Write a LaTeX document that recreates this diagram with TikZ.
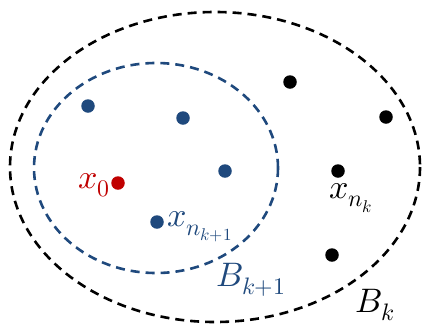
\documentclass[tikz,border=0pt]{standalone}
\usepackage{amsmath}
\usepackage{unicode-math}
\setmathfont{Latin Modern Math}
\usepackage{xcolor}
\usepackage{tikz}
\usetikzlibrary{positioning}
\definecolor{ballblue}{RGB}{31,73,125}
\definecolor{ballred}{RGB}{192,0,0}
\tikzset{
pt/.style={
circle,
inner sep=0pt,
minimum size=13.5pt
},
bluept/.style={pt,fill=ballblue},
blackpt/.style={pt,fill=black},
redpt/.style={pt,fill=ballred},
ball/.style={
line width=2.6pt,
dash pattern=on 9pt off 6pt
},
lab/.style={
inner sep=0pt,
font=\fontsize{34}{40}\selectfont
}
}
\begin{document}
\begin{tikzpicture}[x=1pt,y=-1pt]
\useasboundingbox (0,0) rectangle (422,327);
% the two balls
\draw[ball] (215,167) ellipse [x radius=205, y radius=155];
\draw[ball,ballblue] (156,168) ellipse [x radius=122, y radius=105];

% points of B_{k+1}
\node[bluept](b1) at (88,106){};
\node[bluept](b2) at (183,118){};
\node[bluept](b3) at (225,171){};
\node[bluept](b4) at (157,222){};
\node[redpt](x0) at (118,183){};

% points of B_k
\node[blackpt](k1) at (290,82){};
\node[blackpt](k2) at (386,117){};
\node[blackpt](k3) at (338,171){};
\node[blackpt](k4) at (332,255){};

% labels
\node[lab,text=ballred,left=1pt of x0,yshift=-2pt](lx0){$x_0$};
\node[lab,text=ballblue,right=3pt of b4,yshift=-5pt](lxn1){$x_{n_{k+1}}$};
\node[lab,below=5pt of k3,xshift=13pt](lxn){$x_{n_k}$};
\node[lab,text=ballblue](lb1) at (251,280){$B_{k+1}$};
\node[lab](lb) at (375,305){$B_k$};
\end{tikzpicture}
\end{document}
